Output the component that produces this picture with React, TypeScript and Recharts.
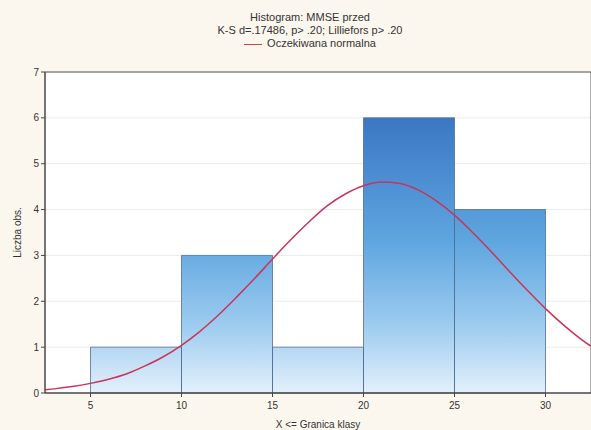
import React from 'react';
import {
  ComposedChart,
  Area,
  Line,
  XAxis,
  YAxis,
  CartesianGrid,
  ReferenceArea,
} from 'recharts';

// Histogram bins (upper bound convention "X <= Granica klasy")
const binLower = [5, 10, 15, 20, 25];
const binUpper = [10, 15, 20, 25, 30];
const binCounts = [1, 3, 1, 6, 4];

// Expected normal curve
const curveX = [2.5, 3, 4, 5, 6, 7, 8, 9, 10, 11, 12, 13, 14, 15, 16, 17, 18, 19, 20, 21, 22, 23, 24, 25, 26, 27, 28, 29, 30, 31, 32, 32.5];
const curveY = [0.07, 0.09, 0.14, 0.21, 0.3, 0.42, 0.59, 0.79, 1.04, 1.34, 1.69, 2.08, 2.49, 2.92, 3.34, 3.73, 4.08, 4.34, 4.52, 4.6, 4.57, 4.43, 4.19, 3.88, 3.5, 3.09, 2.66, 2.24, 1.84, 1.48, 1.16, 1.02];

const xTicks = [5, 10, 15, 20, 25, 30];
const yTicks = [0, 1, 2, 3, 4, 5, 6, 7];
const xDomain = [2.5, 32.5];
const yDomain = [0, 7];

const titleLine1 = 'Histogram: MMSE przed';
const titleLine2 = 'K-S d=.17486, p> .20; Lilliefors p> .20';
const legendLabel = 'Oczekiwana normalna';
const xLabel = 'X <= Granica klasy';
const yLabel = 'Liczba obs.';

const histData = [
  ...binLower.map((lo, i) => ({ x: lo, c: binCounts[i] })),
  { x: binUpper[binUpper.length - 1], c: binCounts[binCounts.length - 1] },
];
const curveData = curveX.map((x, i) => ({ x, y: curveY[i] }));

const FONT = '"Liberation Sans", Arial, sans-serif';

export default function App() {
  return (
    <div
      style={{
        position: 'fixed',
        left: 0,
        top: 0,
        width: 591,
        height: 430,
        background: '#fcf7ee',
        fontFamily: FONT,
      }}
    >
      <div
        style={{
          position: 'absolute',
          left: 0,
          top: 11,
          width: 620,
          textAlign: 'center',
          fontSize: 11,
          lineHeight: '13px',
          color: '#333',
        }}
      >
        <div>{titleLine1}</div>
        <div>{titleLine2}</div>
        <div>
          <span
            style={{
              display: 'inline-block',
              width: 18,
              height: 0,
              borderTop: '1.5px solid #d0404a',
              verticalAlign: 'middle',
              marginRight: 5,
            }}
          />
          {legendLabel}
        </div>
      </div>
      <ComposedChart
        width={591}
        height={430}
        margin={{ top: 72, right: 0, bottom: 17, left: 15 }}
        style={{ position: 'absolute', left: 0, top: 0 }}
      >
        <defs>
          <linearGradient id="barGrad" x1="0" y1="0" x2="0" y2="1">
            <stop offset="0%" stopColor="#3b77c4" />
            <stop offset="45%" stopColor="#5fa6e0" />
            <stop offset="75%" stopColor="#9ccbef" />
            <stop offset="100%" stopColor="#e3f0fb" />
          </linearGradient>
        </defs>
        <CartesianGrid vertical={false} stroke="#ececec" fill="#ffffff" />
        <XAxis
          dataKey="x"
          type="number"
          domain={xDomain}
          ticks={xTicks}
          allowDataOverflow
          height={20}
          stroke="#444"
          tickSize={4}
          tickMargin={5}
          tick={{ fontSize: 10, fill: '#333', fontFamily: FONT }}
          label={{ value: xLabel, position: 'insideBottom', offset: -15, fontSize: 10, fill: '#333', fontFamily: FONT }}
        />
        <YAxis
          type="number"
          domain={yDomain}
          ticks={yTicks}
          width={30}
          stroke="#444"
          tickSize={4}
          tick={{ fontSize: 10, fill: '#333', fontFamily: FONT }}
          label={{ value: yLabel, angle: -90, position: 'insideLeft', offset: 2, fontSize: 10, fill: '#333', fontFamily: FONT, style: { textAnchor: 'middle' } }}
        />
        <Area
          data={histData}
          dataKey="c"
          type="stepAfter"
          stroke="none"
          fill="url(#barGrad)"
          fillOpacity={1}
          isAnimationActive={false}
        />
        {binLower.map((lo, i) => (
          <ReferenceArea
            key={lo}
            x1={lo}
            x2={binUpper[i]}
            y1={0}
            y2={binCounts[i]}
            fill="none"
            fillOpacity={0}
            stroke="#4f6f96"
            strokeOpacity={0.8}
            strokeWidth={1}
          />
        ))}
        <ReferenceArea
          x1={xDomain[0]}
          x2={xDomain[1]}
          y1={yDomain[0]}
          y2={yDomain[1]}
          fill="none"
          fillOpacity={0}
          stroke="#555"
          strokeWidth={1}
        />
        <Line
          data={curveData}
          dataKey="y"
          type="monotone"
          stroke="#c8355a"
          strokeWidth={1.5}
          dot={false}
          isAnimationActive={false}
        />
      </ComposedChart>
    </div>
  );
}
